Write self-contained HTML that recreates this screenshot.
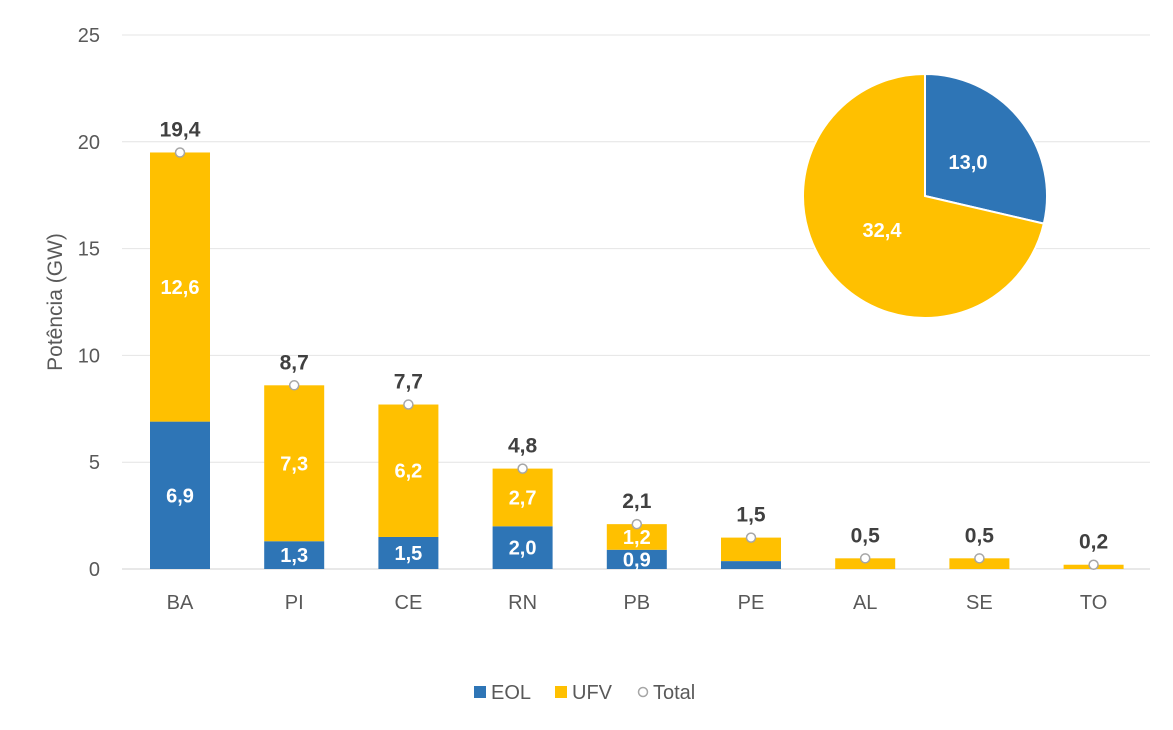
<!DOCTYPE html>
<html><head><meta charset="utf-8"><style>
body{margin:0;background:#fff;}
svg text{font-family:"Liberation Sans",sans-serif;}
</style></head><body>
<svg id="chart" width="1173" height="725" xmlns="http://www.w3.org/2000/svg"></svg>
<script>
const categories=["BA","PI","CE","RN","PB","PE","AL","SE","TO"];
const eolValues=[6.9,1.3,1.5,2.0,0.9,0.37,0,0,0];
const ufvValues=[12.6,7.3,6.2,2.7,1.2,1.1,0.5,0.5,0.2];
const eolLabels=["6,9","1,3","1,5","2,0","0,9","","","",""];
const ufvLabels=["12,6","7,3","6,2","2,7","1,2","","","",""];
const totalLabels=["19,4","8,7","7,7","4,8","2,1","1,5","0,5","0,5","0,2"];
const yTicks=[0,5,10,15,20,25];
const pieValues=[13.0,32.4];
const pieLabels=["13,0","32,4"];

const NS="http://www.w3.org/2000/svg";
const svg=document.getElementById('chart');
function el(tag,attrs,parent){const e=document.createElementNS(NS,tag);for(const k in attrs)e.setAttribute(k,attrs[k]);(parent||svg).appendChild(e);return e;}
const y=v=>569-v*(534/25);
const x=i=>180+i*114.2;
const BW=60;
const EOLC="#2e75b6",UFVC="#ffc000";

yTicks.forEach(t=>{
  const g=el('line',{x1:122,x2:1150,y1:y(t),y2:y(t),stroke:t===0?'#d0d0d0':'#e4e4e4','stroke-width':1});
  
  const tx=el('text',{x:100,y:y(t)+7,'text-anchor':'end','font-size':20,fill:'#595959'});
  tx.textContent=t;
  
});
const yt=el('text',{x:62,y:302,'text-anchor':'middle','font-size':21,fill:'#595959',transform:'rotate(-90 62 302)'});
yt.textContent='Potência (GW)';


categories.forEach((c,i)=>{
  const cx=x(i),e=eolValues[i],u=ufvValues[i],tot=e+u;
  const b1=el('rect',{x:cx-BW/2,y:y(e),width:BW,height:y(0)-y(e),fill:EOLC});
  
  const b2=el('rect',{x:cx-BW/2,y:y(tot),width:BW,height:y(e)-y(tot),fill:UFVC});
  
  if(eolLabels[i]){const t=el('text',{x:cx,y:(y(0)+y(e))/2+7,'text-anchor':'middle','font-size':20,'font-weight':'bold',fill:'#fff'});t.textContent=eolLabels[i];
    }
  if(ufvLabels[i]){const t=el('text',{x:cx,y:(y(e)+y(tot))/2+7,'text-anchor':'middle','font-size':20,'font-weight':'bold',fill:'#fff'});t.textContent=ufvLabels[i];
    }
  const m=el('circle',{cx:cx,cy:y(tot),r:4.5,fill:'#fff',stroke:'#a6a6a6','stroke-width':1.5});
  
  const tl=el('text',{x:cx,y:y(tot)-16,'text-anchor':'middle','font-size':21,'font-weight':'bold',fill:'#404040'});tl.textContent=totalLabels[i];
  
  const xl=el('text',{x:cx,y:609,'text-anchor':'middle','font-size':20,fill:'#595959'});xl.textContent=c;
  
});

// pie
const pcx=925,pcy=196,R=122;
const ptot=pieValues.reduce((a,b)=>a+b,0);
let a0=0;const pieCols=[EOLC,UFVC];
pieValues.forEach((v,k)=>{
  const a1=a0+v/ptot*2*Math.PI;
  const p=(a)=>[pcx+R*Math.sin(a),pcy-R*Math.cos(a)];
  const [x0,y0]=p(a0),[x1,y1]=p(a1);
  const large=(a1-a0)>Math.PI?1:0;
  const s=el('path',{d:`M${pcx},${pcy} L${x0},${y0} A${R},${R} 0 ${large} 1 ${x1},${y1} Z`,fill:pieCols[k],stroke:'#fff','stroke-width':2});
  
  const am=(a0+a1)/2,lr=R*0.45;
  const t=el('text',{x:pcx+lr*Math.sin(am),y:pcy-lr*Math.cos(am)+7,'text-anchor':'middle','font-size':20,'font-weight':'bold',fill:'#fff'});
  t.textContent=pieLabels[k];
  
  a0=a1;
});

// legend
const lg=el('g',{});
const r1=el('rect',{x:474,y:686,width:12,height:12,fill:EOLC},lg);
const t1=el('text',{x:491,y:699,'font-size':20,fill:'#595959'},lg);t1.textContent='EOL';
const r2=el('rect',{x:555,y:686,width:12,height:12,fill:UFVC},lg);
const t2=el('text',{x:572,y:699,'font-size':20,fill:'#595959'},lg);t2.textContent='UFV';
const c3=el('circle',{cx:643,cy:692,r:4.5,fill:'#fff',stroke:'#a6a6a6','stroke-width':1.5},lg);
const t3=el('text',{x:653,y:699,'font-size':20,fill:'#595959'},lg);t3.textContent='Total';
</script>
</body></html>
